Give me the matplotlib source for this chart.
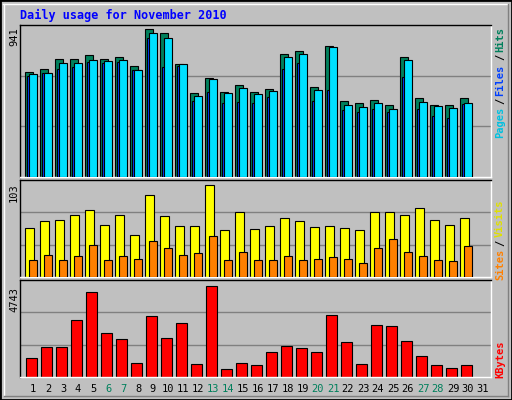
import matplotlib
matplotlib.use("Agg")
import matplotlib.pyplot as plt
import numpy as np

days = list(range(1, 32))
hits = [668,685,748,748,774,748,761,704,941,914,716,532,629,540,583,540,557,782,799,570,833,483,468,488,456,761,500,456,456,500]
files = [653,659,723,723,742,736,742,678,914,882,716,513,621,532,564,526,545,761,780,551,825,456,443,468,430,742,475,450,437,468]
pages = [640,659,685,697,729,723,729,678,882,697,704,481,540,468,475,468,507,685,723,481,551,424,411,430,411,634,430,386,373,462]
visits = [55,62,64,69,75,58,69,47,91,68,57,57,103,52,72,54,57,66,62,56,57,55,52,72,72,69,77,64,58,66]
sites = [19,25,19,23,36,19,23,20,40,32,24,27,46,19,28,19,19,23,19,20,22,20,16,32,42,28,23,19,18,34]
kbytes = [1004,1575,1575,2977,4431,2302,1991,744,3185,2043,2822,692,4743,433,744,640,1316,1627,1523,1316,3237,1835,692,2718,2666,1887,1108,640,485,640]
weekend = [6,7,13,14,20,21,27,28]

W, H = 512, 400
fig = plt.figure(figsize=(5.12, 4.0), dpi=100)
fig.patch.set_facecolor("#C0C0C0")
mono = "DejaVu Sans Mono"

def fx(px): return px / W
def fy(py): return 1 - py / H

# border bevel
fig.add_artist(plt.Rectangle((0, 0), 1, 1, transform=fig.transFigure, fill=False, ec="black", lw=2))
fig.add_artist(plt.Line2D([fx(3), fx(508)], [fy(4), fy(4)], color="white", lw=1, transform=fig.transFigure))
fig.add_artist(plt.Line2D([fx(4), fx(4)], [fy(4), fy(395)], color="white", lw=1, transform=fig.transFigure))
fig.add_artist(plt.Line2D([fx(4), fx(508)], [fy(396), fy(396)], color="#808080", lw=1, transform=fig.transFigure))
fig.add_artist(plt.Line2D([fx(508), fx(508)], [fy(4), fy(396)], color="#808080", lw=1, transform=fig.transFigure))

x = np.array(days[:30])
XL = (0.133, 31.53)

def mkax(top, bot):
    ax = fig.add_axes([fx(20), fy(bot), fx(491) - fx(20), (bot - top) / H])
    ax.set_facecolor("#C0C0C0")
    ax.set_xlim(*XL)
    ax.set_xticks([]); ax.set_yticks([])
    for s in ax.spines.values():
        s.set_color("white"); s.set_linewidth(1)
    ax.spines["left"].set_color("black"); ax.spines["top"].set_color("black")
    return ax

def grids(ax, ymax):
    for f in (1/3, 2/3):
        ax.axhline(ymax * f, color="#808080", lw=1, zorder=0)

# top
ax1 = mkax(25, 177)
ym1 = 941 / 148 * 152
ax1.set_ylim(0, ym1)
grids(ax1, ym1)
ax1.bar(x - 0.513 + 0.245, hits, width=0.49, color="#00805C", ec="black", lw=0.8, zorder=2)
ax1.bar(x - 0.4 + 0.3, pages, width=0.6, color="#0040FF", ec="black", lw=0.8, zorder=3)
ax1.bar(x - 0.287 + 0.267, files, width=0.53, color="#00E0FF", ec="black", lw=0.8, zorder=4)

# middle
ax2 = mkax(180, 277)
ym2 = 103 / 92.4 * 97
ax2.set_ylim(0, ym2)
grids(ax2, ym2)
ax2.bar(x - 0.513 + 0.28, visits, width=0.56, color="#FFFF00", ec="black", lw=0.8, zorder=2)
ax2.bar(x - 0.247 + 0.247, sites, width=0.494, color="#FF8000", ec="black", lw=0.8, zorder=3)

# bottom
ax3 = mkax(280, 377)
ym3 = 4743 / 91.3 * 97
ax3.set_ylim(0, ym3)
grids(ax3, ym3)
ax3.bar(x - 0.447 + 0.347, kbytes, width=0.694, color="#FF0000", ec="black", lw=0.8, zorder=2)

# day labels
for d in days:
    px = 18 + 15 * d
    fig.text(fx(px), fy(389), str(d), ha="center", va="center", fontsize=7.5, family=mono,
             color="#00805C" if d in weekend else "black")

fig.text(fx(20), fy(15), "Daily usage for November 2010", ha="left", va="center",
         fontsize=8.5, family=mono, weight="bold", color="#0000FF")

for txt, py in (("941", 37), ("103", 193), ("4743", 300)):
    fig.text(fx(14), fy(py), txt, rotation=90, ha="center", va="center", fontsize=7.5, family=mono, color="black")

def rlab(items):
    for txt, col, py in items:
        fig.text(fx(500), fy(py), txt, rotation=90, ha="center", va="center",
                 fontsize=7.5, family=mono, weight="bold", color=col)

rlab([("Hits", "#00805C", 39), ("/", "black", 57), ("Files", "#0040FF", 80),
      ("/", "black", 101), ("Pages", "#00C0E0", 122)])
rlab([("Visits", "#E0E000", 218), ("/", "black", 243), ("Sites", "#FF8000", 264)])
rlab([("KBytes", "#FF0000", 359)])

fig.savefig("out.png", dpi=100, facecolor=fig.get_facecolor())
